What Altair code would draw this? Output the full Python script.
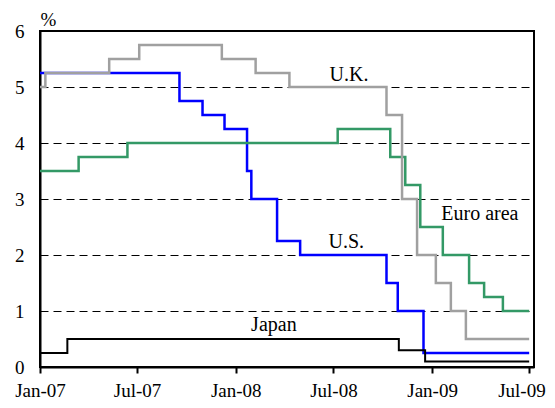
import altair as alt
import pandas as pd

# ---- data ----
us_dates = ["2007-01-01", "2007-09-18", "2007-10-31", "2007-12-11", "2008-01-22", "2008-01-30",
            "2008-03-18", "2008-04-30", "2008-10-08", "2008-10-29", "2008-12-16", "2009-07-01"]
us_rates = [5.25, 4.75, 4.50, 4.25, 3.50, 3.00, 2.25, 2.00, 1.50, 1.00, 0.25, 0.25]

uk_dates = ["2007-01-01", "2007-01-11", "2007-05-10", "2007-07-05", "2007-12-06", "2008-02-07",
            "2008-04-10", "2008-10-08", "2008-11-06", "2008-12-04", "2009-01-08", "2009-02-05",
            "2009-03-05", "2009-07-01"]
uk_rates = [5.00, 5.25, 5.50, 5.75, 5.50, 5.25, 5.00, 4.50, 3.00, 2.00, 1.50, 1.00, 0.50, 0.50]

eu_dates = ["2007-01-01", "2007-03-14", "2007-06-13", "2008-07-09", "2008-10-15", "2008-11-12",
            "2008-12-10", "2009-01-21", "2009-03-11", "2009-04-08", "2009-05-13", "2009-07-01"]
eu_rates = [3.50, 3.75, 4.00, 4.25, 3.75, 3.25, 2.50, 2.00, 1.50, 1.25, 1.00, 1.00]

jp_dates = ["2007-01-01", "2007-02-21", "2008-10-31", "2008-12-19", "2009-07-01"]
jp_rates = [0.25, 0.50, 0.30, 0.10, 0.10]

series_names = ["U.S.", "Euro area", "U.K.", "Japan"]
series_colors = ["#0000FF", "#339966", "#A0A0A0", "#000000"]

label_texts = ["U.K.", "Euro area", "U.S.", "Japan"]
label_dates = ["2008-07-30", "2009-03-31", "2008-07-25", "2008-03-12"]
label_values = [5.1, 2.62, 2.12, 0.64]

tick_dates = ["2007-01-01", "2007-07-01", "2008-01-01", "2008-07-01", "2009-01-01", "2009-07-01"]
tick_labels = ["Jan-07", "Jul-07", "Jan-08", "Jul-08", "Jan-09", "Jul-09"]

y_ticks = [0, 1, 2, 3, 4, 5, 6]


def ms(d):
    return int(pd.Timestamp(d, tz="UTC").value // 1_000_000)


frames = []
for name, dates, rates in [("U.S.", us_dates, us_rates), ("Euro area", eu_dates, eu_rates),
                           ("U.K.", uk_dates, uk_rates), ("Japan", jp_dates, jp_rates)]:
    frames.append(pd.DataFrame({"t": [ms(d) for d in dates], "rate": rates, "series": name}))
df = pd.concat(frames, ignore_index=True)

labels_df = pd.DataFrame({"t": [ms(d) for d in label_dates], "rate": label_values, "text": label_texts})

tick_ms = [ms(d) for d in tick_dates]
label_expr = "[" + ",".join("'%s'" % s for s in tick_labels) + "][indexof([" + \
    ",".join(str(v) for v in tick_ms) + "], datum.value)]"
last_test = "datum.value == %d" % tick_ms[-1]

FONT = "Liberation Serif"

x_scale = alt.Scale(domain=[ms("2007-01-01"), ms("2009-07-10")], nice=False, zero=False)
y_scale = alt.Scale(domain=[0, 6], nice=False)

x_axis = alt.Axis(values=tick_ms, labelExpr=label_expr, title=None, grid=False,
                  domainColor="black", domainWidth=2, tickColor="black", tickWidth=2, tickSize=6,
                  labelFont=FONT, labelFontSize=19, labelColor="black", labelPadding=8,
                  labelAlign={"condition": {"test": last_test, "value": "right"}, "value": "center"},
                  labelOffset={"condition": {"test": last_test, "value": 16}, "value": 0},
                  labelFlush=False, labelOverlap=False)
y_axis = alt.Axis(values=y_ticks, title="%", titleAngle=0, titleX=0, titleY=-6,
                  titleAlign="left", titleBaseline="alphabetic", titleFont=FONT,
                  titleFontSize=19, titleFontWeight="normal", titleColor="black",
                  grid=True, gridDash=[8, 5], gridColor="black", gridWidth=1,
                  ticks=False, domainColor="black", domainWidth=2,
                  labelFont=FONT, labelFontSize=19, labelColor="black", labelPadding=16)

X = alt.X("t:Q", scale=x_scale, axis=x_axis)
Y = alt.Y("rate:Q", scale=y_scale, axis=y_axis)

layers = []
for name, color in zip(series_names, series_colors):
    layers.append(
        alt.Chart(df[df["series"] == name])
        .mark_line(interpolate="step-after", color=color, strokeWidth=2.5 if name != "Japan" else 2)
        .encode(x=X, y=Y)
    )

text_layer = alt.Chart(labels_df).mark_text(font=FONT, fontSize=20, color="black",
                                            baseline="alphabetic", align="center").encode(
    x=X, y=Y, text="text:N",
)

chart = alt.layer(*layers, text_layer).properties(
    width=494, height=336,
    autosize=alt.AutoSizeParams(type="none"),
    padding={"left": 32, "top": 23, "right": 13, "bottom": 33},
    background="white",
).configure_view(stroke="black", strokeWidth=2)

chart.save("out.html", embed_options={"renderer": "svg", "actions": False})
